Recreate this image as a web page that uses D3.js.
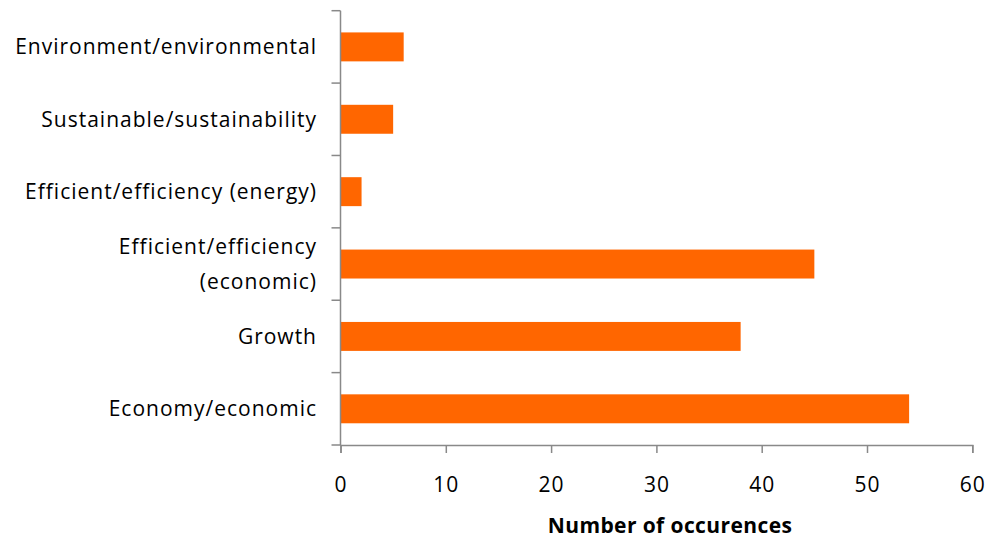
<!DOCTYPE html>
<html>
<head>
<meta charset="utf-8">
<script src="https://cdn.jsdelivr.net/npm/d3@7"></script>
<style>
  html, body { margin: 0; padding: 0; background: #fff; }
  svg { display: block; }
  text { font-family: "Open Sans", "DejaVu Sans", sans-serif; fill: #000; }
</style>
</head>
<body>
<svg id="chart" width="988" height="538"></svg>
<script>
// Word counts, listed top to bottom as they appear on the chart
const categories = [
  "Environment/environmental",
  "Sustainable/sustainability",
  "Efficient/efficiency (energy)",
  "Efficient/efficiency\n(economic)",
  "Growth",
  "Economy/economic"
];
const counts = [6, 5, 2, 45, 38, 54];
const xTicks = [0, 10, 20, 30, 40, 50, 60];
const xTitle = "Number of occurences";

const svg = d3.select("#chart");
const plot = { left: 340.5, right: 972.3, top: 10.7, bottom: 445 };
const axisColor = "#898989";
const barColor = "#FF6600";
const fontSize = 21;
const spacing = "1px";

const x = d3.scaleLinear().domain([0, 60]).range([plot.left, plot.right]);
const y = d3.scaleBand()
  .domain(categories)
  .range([plot.top, plot.bottom])
  .paddingInner(0.6)
  .paddingOuter(0.3);

// Bars
svg.append("g")
  .selectAll("rect")
  .data(categories)
  .join("rect")
  .attr("x", x(0))
  .attr("y", d => y(d))
  .attr("width", (d, i) => x(counts[i]) - x(0))
  .attr("height", y.bandwidth())
  .attr("fill", barColor);

// Category axis: line plus ticks on band boundaries
const step = y.step();
const bounds = d3.range(categories.length + 1).map(i => plot.top + i * step);
const yAxis = svg.append("g").attr("stroke", axisColor).attr("stroke-width", 1.5);
yAxis.append("line")
  .attr("x1", plot.left).attr("x2", plot.left)
  .attr("y1", plot.top).attr("y2", plot.bottom);
yAxis.selectAll("line.tick")
  .data(bounds)
  .join("line")
  .attr("class", "tick")
  .attr("x1", plot.left - 9).attr("x2", plot.left)
  .attr("y1", d => d).attr("y2", d => d);

// Category labels (right aligned, multi-line where needed)
const lineGap = 35;
svg.append("g")
  .selectAll("text")
  .data(categories)
  .join("text")
  .attr("text-anchor", "end")
  .attr("font-size", fontSize)
  .attr("letter-spacing", spacing)
  .each(function (d) {
    const lines = d.split("\n");
    const cy = y(d) + y.bandwidth() / 2;
    const first = cy - (lines.length - 1) * lineGap / 2;
    d3.select(this).selectAll("tspan")
      .data(lines)
      .join("tspan")
      .attr("x", 317)
      .attr("y", (l, i) => first + i * lineGap)
      .attr("dy", "0.36em")
      .text(l => l);
  });

// Value axis at the bottom
const xAxis = svg.append("g")
  .attr("transform", `translate(0,${plot.bottom})`)
  .call(d3.axisBottom(x).tickValues(xTicks).tickSize(8).tickPadding(24).tickFormat(d3.format("d")));
xAxis.select(".domain").attr("stroke", axisColor).attr("stroke-width", 1.5);
xAxis.selectAll(".tick line").attr("stroke", axisColor).attr("stroke-width", 1.5);
xAxis.selectAll(".tick text")
  .attr("font-size", fontSize)
  .attr("letter-spacing", spacing)
  .attr("font-family", "\"Open Sans\", sans-serif")
  .attr("fill", "#000");

// Axis title
svg.append("text")
  .attr("x", 670)
  .attr("y", 533)
  .attr("text-anchor", "middle")
  .attr("font-size", 21)
  .attr("letter-spacing", "0.4px")
  .attr("font-weight", "bold")
  .text(xTitle);
</script>
</body>
</html>
